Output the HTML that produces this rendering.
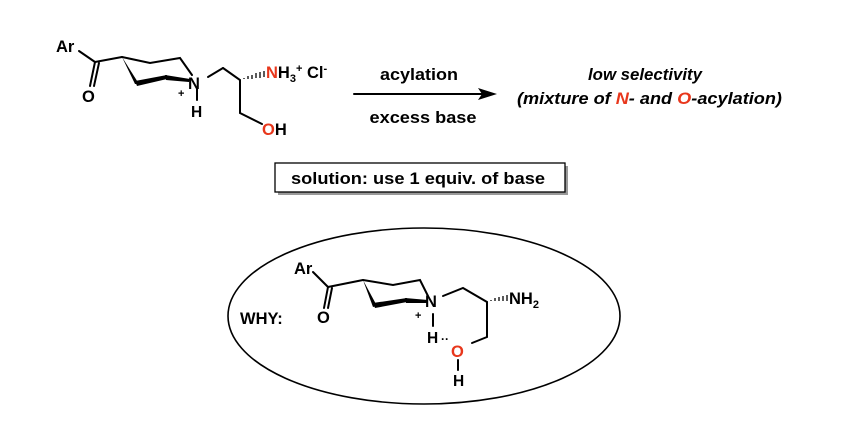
<!DOCTYPE html>
<html><head><meta charset="utf-8"><style>
html,body{margin:0;padding:0;background:#fff;}
svg{display:block;}
text{font-family:"Liberation Sans",sans-serif;font-weight:bold;fill:#000;}
.r{fill:#e8371c;}
</style></head><body>
<svg width="847" height="430" viewBox="0 0 847 430" xmlns="http://www.w3.org/2000/svg">
<g stroke="#000" stroke-width="2" fill="none" stroke-linecap="round">
<line x1="79" y1="51" x2="95" y2="62"/>
<line x1="95" y1="62" x2="90" y2="86"/>
<line x1="99" y1="63" x2="94" y2="86"/>
<line x1="95" y1="62" x2="122" y2="57"/>
<polyline points="122,57 150,63 180,58 192,75"/>
<line x1="208" y1="77" x2="223" y2="68"/>
<polyline points="223,68 240,80 240,113 262,124"/>
<line x1="197" y1="89" x2="197" y2="100"/>
<line x1="313" y1="272" x2="328" y2="287"/>
<line x1="328" y1="287" x2="324" y2="308"/>
<line x1="332" y1="288" x2="328" y2="308"/>
<line x1="328" y1="287" x2="363" y2="280"/>
<polyline points="363,280 393,285 420,280 428,296"/>
<polyline points="443,296 463,288 487,302 487,337 472,343"/>
<line x1="433" y1="314" x2="433" y2="326"/>
<line x1="458" y1="360" x2="458" y2="370"/>
<line x1="354" y1="94" x2="485" y2="94"/>
<ellipse cx="424" cy="316" rx="196" ry="88" stroke-width="1.6"/>
</g>
<g fill="#000">
<polygon points="122,57 139,84 135,84"/>
<polygon points="135,81 167,75 167,79 137,86"/>
<polygon points="165,75 190,79 189,82 166,80"/>
<polygon points="363,280 377,306 373,307"/>
<polygon points="373,303 407,298 407,302 375,308"/>
<polygon points="405,298 428,300 428,303 406,303"/>
<polygon points="497,94 478,88 482,94 478,100"/>
</g>
<g stroke="#000" stroke-width="1.3">
<line x1="244" y1="78" x2="244" y2="79"/><line x1="248" y1="76" x2="248" y2="79"/><line x1="252" y1="75" x2="252" y2="79"/><line x1="256" y1="73" x2="256" y2="78"/><line x1="260" y1="72" x2="260" y2="78"/><line x1="264" y1="71" x2="264" y2="77"/>
<line x1="491" y1="300" x2="491" y2="301"/><line x1="495" y1="298" x2="495" y2="301"/><line x1="499" y1="297" x2="499" y2="301"/><line x1="503" y1="296" x2="503" y2="301"/><line x1="507" y1="295" x2="507" y2="301"/>
</g>
<text x="56" y="52" font-size="16.5">Ar</text>
<text x="82" y="102" font-size="16.5">O</text>
<text x="188" y="89" font-size="16.5">N</text>
<text x="178" y="97" font-size="11">+</text>
<text x="191" y="117" font-size="15.5">H</text>
<text x="266" y="78" font-size="16.5"><tspan class="r">N</tspan>H<tspan font-size="11" dy="4">3</tspan><tspan font-size="11" dy="-10">+</tspan><tspan dy="6"> Cl</tspan><tspan font-size="11" dy="-6">-</tspan></text>
<text x="262" y="135" font-size="16.5"><tspan class="r">O</tspan>H</text>
<text x="419" y="80" font-size="16.5" text-anchor="middle" textLength="78" lengthAdjust="spacingAndGlyphs">acylation</text>
<text x="423" y="123" font-size="16.5" text-anchor="middle" textLength="107" lengthAdjust="spacingAndGlyphs">excess base</text>
<text x="645" y="80" font-size="16.5" text-anchor="middle" font-style="italic" textLength="114" lengthAdjust="spacingAndGlyphs">low selectivity</text>
<text x="517" y="104" font-size="17" font-style="italic" textLength="265" lengthAdjust="spacingAndGlyphs">(mixture of <tspan class="r">N</tspan>- and <tspan class="r">O</tspan>-acylation)</text>
<rect x="278" y="166" width="290" height="29" fill="#999"/>
<rect x="275" y="163" width="290" height="29" fill="#fff" stroke="#000" stroke-width="1.3"/>
<text x="291" y="184" font-size="17" textLength="254" lengthAdjust="spacingAndGlyphs">solution: use 1 equiv. of base</text>
<text x="294" y="274" font-size="16.5">Ar</text>
<text x="240" y="324" font-size="16.5">WHY:</text>
<text x="317" y="323" font-size="16.5">O</text>
<text x="425" y="307" font-size="16.5">N</text>
<text x="415" y="319" font-size="11">+</text>
<text x="427" y="343" font-size="15.5">H</text>
<text x="441" y="343" font-size="12">··</text>
<text x="451" y="357" font-size="16.5" class="r">O</text>
<text x="453" y="386" font-size="15.5">H</text>
<text x="509" y="304" font-size="16.5">NH<tspan font-size="11" dy="4">2</tspan></text>
</svg>
</body></html>
